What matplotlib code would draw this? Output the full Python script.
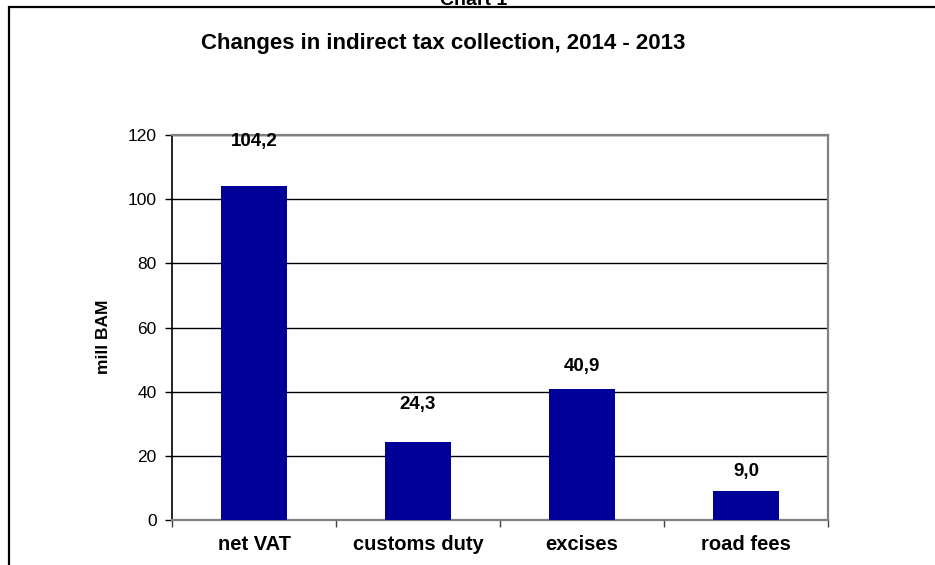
import matplotlib
matplotlib.use("Agg")
import matplotlib.pyplot as plt

plt.rcParams['font.family'] = ['Liberation Sans', 'DejaVu Sans']

# indirect tax collection changes, mill BAM
categories = ["net VAT", "customs duty", "excises", "road fees"]
changes = [104.2, 24.3, 40.9, 9.0]
value_labels = ["104,2", "24,3", "40,9", "9,0"]
label_offsets = [32, 27, 16, 14]   # points above each bar
y_ticks = [0, 20, 40, 60, 80, 100, 120]

W, H = 935, 565
fig = plt.figure(figsize=(W / 100, H / 100), dpi=100)
fig.patch.set_facecolor("white")

# outer chart frame (runs past the right and bottom edges)
frame = plt.Rectangle((9 / W, -0.1), 1.2, 1.1 - 7 / H, transform=fig.transFigure,
                      fill=False, edgecolor="black", linewidth=1.6)
fig.add_artist(frame)

fig.text(474 / W, 1 - 5 / H, "Chart 1", ha="center", va="baseline",
         fontsize=14, fontweight="bold")
fig.text(443 / W, 1 - 44 / H, "Changes in indirect tax collection, 2014 - 2013",
         ha="center", va="center", fontsize=16, fontweight="bold")

ax = fig.add_axes([172 / W, 1 - 520 / H, (828 - 172) / W, (520 - 135) / H])
x = list(range(len(categories)))
ax.bar(x, changes, width=0.4, color="#000099", zorder=3)

for xi, v, lab, off in zip(x, changes, value_labels, label_offsets):
    ax.annotate(lab, (xi, v), xytext=(0, off), textcoords="offset points",
                ha="center", va="center", fontsize=13.5, fontweight="bold")

ax.set_xlim(-0.5, len(categories) - 0.5)
ax.set_ylim(0, 120)
ax.set_yticks(y_ticks)
ax.set_yticklabels([str(t) for t in y_ticks], fontsize=12.5)
ax.yaxis.grid(True, color="black", linewidth=1.0, zorder=0)

# category labels between boundary ticks
ax.set_xticks([i - 0.5 for i in range(len(categories) + 1)])
ax.set_xticklabels([])
ax.set_xticks(x, minor=True)
ax.set_xticklabels(categories, minor=True, fontsize=14.5, fontweight="bold")
ax.tick_params(axis="x", which="minor", length=0, pad=11)
ax.tick_params(axis="x", which="major", direction="out", length=5, width=1, color="#404040")
ax.tick_params(axis="y", direction="out", length=5, width=1, color="black", pad=6)

for side in ("top", "right", "bottom"):
    ax.spines[side].set_color("#808080")
    ax.spines[side].set_linewidth(1.6)
ax.spines["left"].set_color("black")
ax.spines["left"].set_linewidth(1.2)

fig.text(103 / W, 1 - 337 / H, "mill BAM", rotation=90, ha="center", va="center",
         fontsize=12.5, fontweight="bold")

fig.savefig("out.png", dpi=100)
